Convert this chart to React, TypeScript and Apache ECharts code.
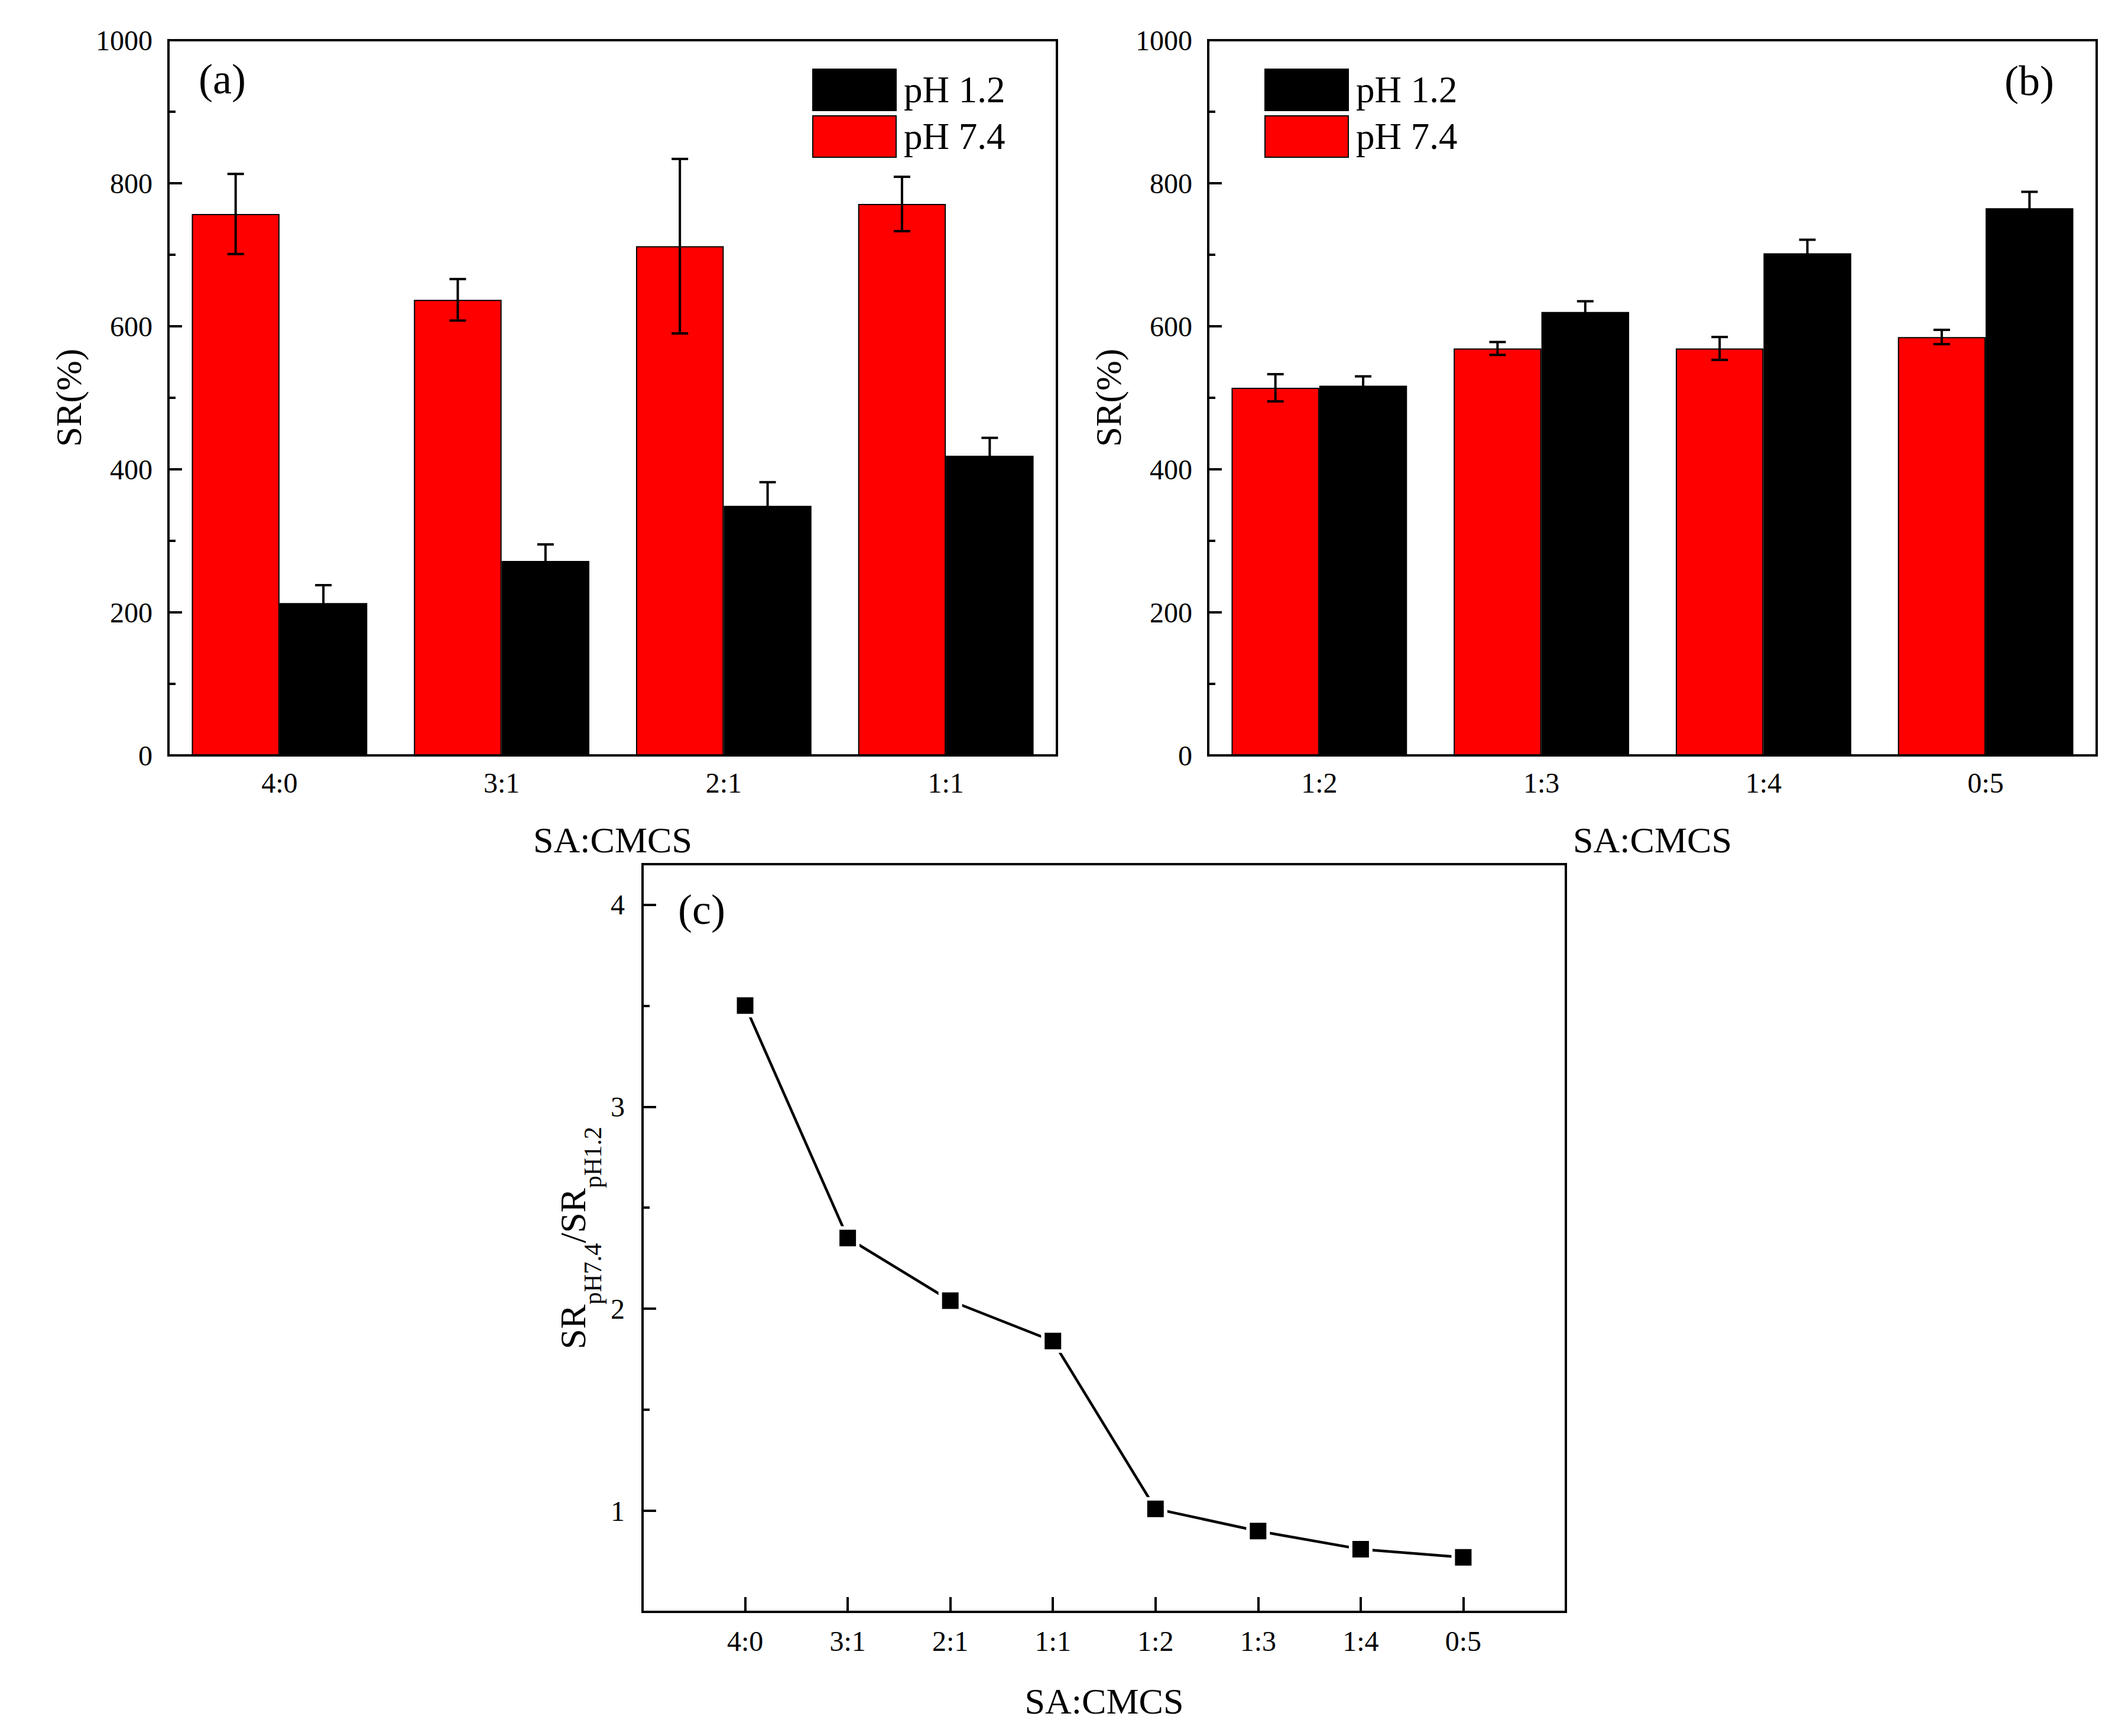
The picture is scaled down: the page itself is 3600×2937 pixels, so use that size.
import React, { useEffect, useRef } from "react";
import * as echarts from "echarts";

const FONT = '"Liberation Serif", "Times New Roman", serif';

// panel (a)
const catsA = ["4:0", "3:1", "2:1", "1:1"];
const acidA = [213, 272, 349, 419];
const acidErrA = [25, 23, 33, 25];
const baseA = [757, 637, 712, 771];
const baseErrA = [56, 29, 122, 38];

// panel (b)
const catsB = ["1:2", "1:3", "1:4", "0:5"];
const acidB = [517, 620, 702, 765];
const acidErrB = [13, 15, 19, 23];
const baseB = [514, 569, 569, 585];
const baseErrB = [19, 9, 16, 10];

// panel (c)
const ratioCats = [...catsA, ...catsB];
const ratio = [3.5, 2.35, 2.04, 1.84, 1.01, 0.9, 0.81, 0.77];
const ratioTicks = [1, 2, 3, 4];
const ratioMinor = [1.5, 2.5, 3.5];

const legendNames = ["pH 1.2", "pH 7.4"];

const black = "#000000";
const red = "#ff0000";
const line4 = { color: black, width: 4 };
const BAR_HALF = 0.1975; // bar centre offset as share of the band

const barSeries = (name: string, color: string, data: number[], g: number) => ({
  type: "bar",
  name,
  xAxisIndex: g,
  yAxisIndex: g,
  data,
  barGap: "0%",
  barCategoryGap: "21%",
  itemStyle: { color, borderColor: black, borderWidth: 2 },
  z: 2,
});

const errSeries = (vals: number[], errs: number[], g: number, side: number) => ({
  type: "custom",
  xAxisIndex: g,
  yAxisIndex: g,
  z: 5,
  silent: true,
  data: vals.map((v, i) => [i, v, errs[i]]),
  renderItem: (_params: any, api: any) => {
    const i = api.value(0);
    const v = api.value(1);
    const e = api.value(2);
    const band = api.size([1, 0])[0];
    const x = api.coord([i, v])[0] + side * band * BAR_HALF;
    const yT = api.coord([i, v + e])[1];
    const yB = api.coord([i, v - e])[1];
    const style = { stroke: black, lineWidth: 4 };
    return {
      type: "group",
      children: [
        { type: "line", shape: { x1: x, y1: yT, x2: x, y2: yB }, style },
        { type: "line", shape: { x1: x - 14, y1: yT, x2: x + 14, y2: yT }, style },
        { type: "line", shape: { x1: x - 14, y1: yB, x2: x + 14, y2: yB }, style },
      ],
    };
  },
});

const barXAxis = (g: number, data: string[]) => ({
  type: "category",
  gridIndex: g,
  data,
  axisLine: { lineStyle: line4 },
  axisTick: { show: false },
  axisLabel: { fontFamily: FONT, fontSize: 48, color: black, margin: 22 },
  name: "SA:CMCS",
  nameLocation: "middle",
  nameGap: 112,
  nameTextStyle: { fontFamily: FONT, fontSize: 62, color: black },
});

const barYAxis = (g: number) => ({
  type: "value",
  gridIndex: g,
  min: 0,
  max: 1000,
  interval: 200,
  axisLine: { show: true, lineStyle: line4 },
  axisTick: { show: true, inside: true, length: 23, lineStyle: line4 },
  minorTick: { show: true, splitNumber: 2, length: 12, lineStyle: line4 },
  splitLine: { show: false },
  axisLabel: {
    fontFamily: FONT,
    fontSize: 48,
    color: black,
    margin: 27,
    formatter: (v: number) => String(v),
  },
  name: "SR(%)",
  nameLocation: "middle",
  nameGap: 138,
  nameTextStyle: { fontFamily: FONT, fontSize: 61, color: black },
});

const legendAt = (left: number) => ({
  orient: "vertical",
  left,
  top: 111,
  itemWidth: 141,
  itemHeight: 70,
  itemGap: 7,
  icon: "rect",
  selectedMode: false,
  data: legendNames,
  itemStyle: { borderColor: black, borderWidth: 2 },
  textStyle: { fontFamily: FONT, fontSize: 63, color: black, padding: [0, 0, 0, 8] },
});

const gridBox = { show: true, borderColor: black, borderWidth: 4, backgroundColor: "transparent" };

const panelLabel = (text: string, x: number, y: number) => ({
  type: "text",
  x,
  y,
  style: {
    text,
    fontFamily: FONT,
    fontSize: 72,
    fill: black,
    align: "center",
    verticalAlign: "middle",
    textAlign: "center",
    textVerticalAlign: "middle",
  },
});

const App: React.FC = () => {
  const chartRef = useRef<HTMLDivElement>(null);

  useEffect(() => {
    document.body.style.margin = "0";
    if (!chartRef.current) return;
    const chart = echarts.init(chartRef.current, undefined, { renderer: "svg" });

    const option: any = {
      animation: false,
      backgroundColor: "#ffffff",
      textStyle: { fontFamily: FONT },
      grid: [
        { left: 285, top: 68, width: 1503, height: 1210, ...gridBox },
        { left: 2044, top: 68, width: 1503, height: 1210, ...gridBox },
        { left: 1087, top: 1462, width: 1562, height: 1265, ...gridBox },
      ],
      legend: [legendAt(1369), legendAt(2134)],
      xAxis: [
        barXAxis(0, catsA),
        barXAxis(1, catsB),
        {
          type: "category",
          gridIndex: 2,
          data: ["", ...ratioCats, " "],
          boundaryGap: false,
          axisLine: { lineStyle: line4 },
          axisTick: {
            show: true,
            inside: true,
            length: 25,
            lineStyle: line4,
            interval: (i: number) => i > 0 && i <= ratioCats.length,
          },
          axisLabel: { interval: 0, fontFamily: FONT, fontSize: 48, color: black, margin: 25 },
          name: "SA:CMCS",
          nameLocation: "middle",
          nameGap: 120,
          nameTextStyle: { fontFamily: FONT, fontSize: 62, color: black },
        },
      ],
      yAxis: [
        barYAxis(0),
        barYAxis(1),
        {
          type: "value",
          gridIndex: 2,
          position: "left",
          min: 0.5,
          max: 4.2,
          axisLine: { show: true, lineStyle: line4 },
          axisTick: { show: true, inside: true, length: 23, lineStyle: line4, customValues: ratioTicks },
          splitLine: { show: false },
          axisLabel: {
            fontFamily: FONT,
            fontSize: 48,
            color: black,
            margin: 30,
            customValues: ratioTicks,
          },
          name: "{m|SR}{s|pH7.4}{m|/SR}{s|pH1.2}",
          nameLocation: "middle",
          nameGap: 63,
          nameTextStyle: {
            fontFamily: FONT,
            color: black,
            rich: {
              m: { fontFamily: FONT, fontSize: 62, color: black, verticalAlign: "top" },
              s: {
                fontFamily: FONT,
                fontSize: 42,
                color: black,
                verticalAlign: "bottom",
                padding: [44, 0, 0, 0],
              },
            },
          },
        },
        {
          type: "value",
          gridIndex: 2,
          position: "left",
          min: 0.5,
          max: 4.2,
          axisLine: { show: false },
          axisTick: { show: true, inside: true, length: 12, lineStyle: line4, customValues: ratioMinor },
          axisLabel: { show: false },
          splitLine: { show: false },
        },
      ],
      series: [
        barSeries(legendNames[1], red, baseA, 0),
        barSeries(legendNames[0], black, acidA, 0),
        errSeries(baseA, baseErrA, 0, -1),
        errSeries(acidA, acidErrA, 0, 1),
        barSeries(legendNames[1], red, baseB, 1),
        barSeries(legendNames[0], black, acidB, 1),
        errSeries(baseB, baseErrB, 1, -1),
        errSeries(acidB, acidErrB, 1, 1),
        {
          type: "line",
          name: "ratio",
          xAxisIndex: 2,
          yAxisIndex: 2,
          data: ratioCats.map((c, i) => [c, ratio[i]]),
          symbol: "rect",
          symbolSize: 34,
          lineStyle: { color: black, width: 4.5 },
          itemStyle: { color: black, borderColor: "#ffffff", borderWidth: 6 },
          z: 3,
        },
      ],
      graphic: [
        panelLabel("(a)", 376, 134),
        panelLabel("(b)", 3433, 137),
        panelLabel("(c)", 1187, 1539),
      ],
    };

    chart.setOption(option);

    const handleResize = () => {
      chart.resize();
    };
    window.addEventListener("resize", handleResize);

    return () => {
      window.removeEventListener("resize", handleResize);
      chart.dispose();
    };
  }, []);

  return <div ref={chartRef} style={{ width: "3600px", height: "2937px" }} />;
};

export default App;
